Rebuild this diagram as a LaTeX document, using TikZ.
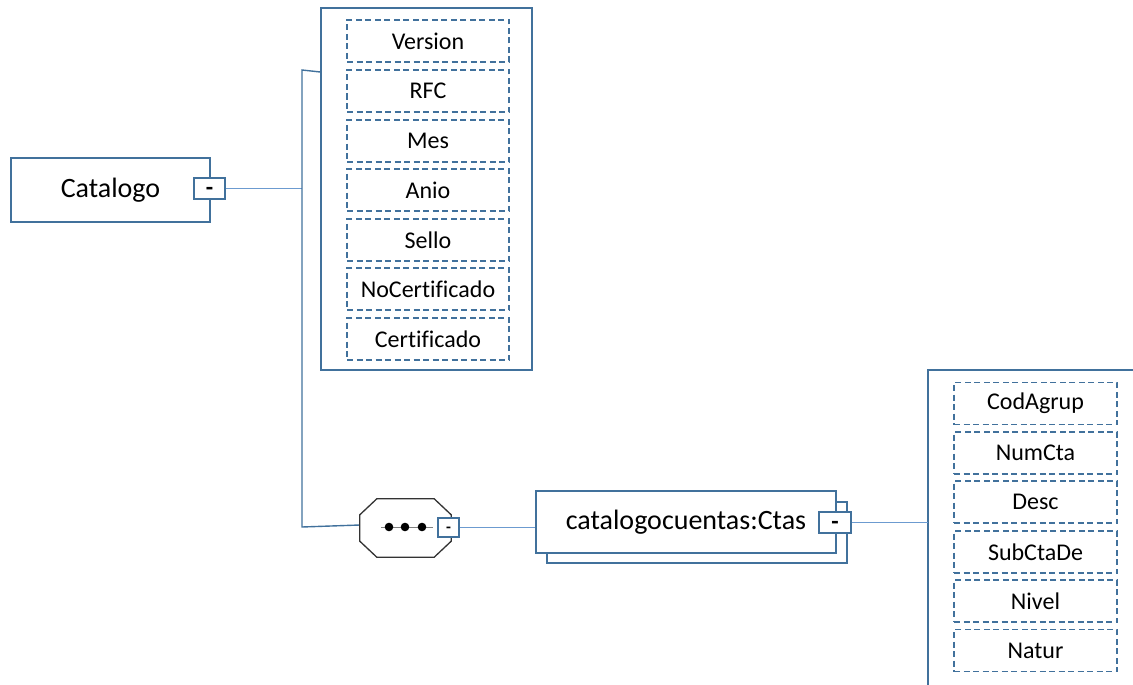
\documentclass[tikz,border=0pt]{standalone}
\usepackage{fontspec}
\setmainfont{Carlito}[Ligatures=NoCommon]
\definecolor{bord}{HTML}{41719C}
\definecolor{conn}{HTML}{6C9BD0}
\definecolor{dsh}{HTML}{41719C}
\definecolor{octc}{HTML}{333333}
\begin{document}
\begin{tikzpicture}[x=1pt,y=-1pt,
  elem/.style={draw=bord,line width=1.4pt,fill=white,minimum width=#1,inner sep=0pt},
  minusbox/.style={draw=bord,line width=1.4pt,fill=white,inner sep=0pt,
    font=\fontsize{24}{24}\selectfont,text height=17pt,text depth=3pt},
  attrbox/.style={draw=bord,line width=1.4pt,inner sep=0pt},
  attr/.style={draw=dsh,line width=1.2pt,dash pattern=on 6pt off 3.5pt,inner sep=0pt,
    minimum width=#1,minimum height=42pt,font=\fontsize{24}{26}\selectfont},
  connline/.style={draw=conn,line width=1pt},
  spine/.style={draw=bord,line width=1.4pt}]
\useasboundingbox (0,0) rectangle (1133,685);
% Catalogo
\node[elem=199pt,minimum height=64pt,font=\fontsize{28}{30}\selectfont] (cat) at (110.5,190) {Catalogo};
\node[minusbox,minimum width=31pt,minimum height=21pt] (catm) at (209.5,188.5) {\textbf{-}};
% attribute group 1
\node[attrbox,minimum width=211pt,minimum height=362pt] (ag1) at (426.5,189) {};
\foreach \t/\y [count=\i] in {Version/41,RFC/91,Mes/141,Anio/190,Sello/240,NoCertificado/289,Certificado/339}
  \node[attr=162pt] (a\i) at (428,\y) {\t};
% spine
\coordinate (sptop) at (302,70);
\coordinate (spbot) at (302,527);
\draw[connline] (catm.east) -- (catm.east -| sptop);
\draw[spine] (ag1.west |- 0,72) -- (sptop) -- (spbot) -- (360,525);
% sequence compositor
\node[minimum width=91pt,minimum height=58pt,inner sep=0pt] (seq) at (405.5,528) {};
\draw[octc,line width=1.3pt,fill=white]
  ([xshift=17pt]seq.north west) -- ([xshift=-17pt]seq.north east) -- ([yshift=-16pt]seq.north east)
  -- ([yshift=16pt]seq.south east) -- ([xshift=-17pt]seq.south east) -- ([xshift=17pt]seq.south west)
  -- ([yshift=16pt]seq.south west) -- ([yshift=-16pt]seq.north west) -- cycle;
\draw[gray,line width=1pt] (381,527) -- (433,527);
\foreach \x in {389,405,422} \fill[black] (\x,527) circle (4.3pt);
\node[minusbox,minimum width=21pt,minimum height=19pt,font=\fontsize{16}{16}\selectfont,
  text height=14pt,text depth=4pt] (seqm) at (448.5,527.5) {\textbf{-}};
% Ctas
\node[elem=300pt,minimum height=61pt] (ctassh) at (697,532.5) {};
\node[elem=300pt,minimum height=62pt,font=\fontsize{28}{30}\selectfont] (ctas) at (686,522) {catalogocuentas:Ctas};
\node[minusbox,minimum width=32pt,minimum height=21pt] (ctasm) at (835,522.5) {\textbf{-}};
\draw[connline] (seqm.east) -- (seqm.east -| ctas.west);
% attribute group 2
\coordinate (ag2) at (928,370);
\draw[spine] (1133,370) -- (ag2) -- (928,685);
\draw[connline] (ctasm.east) -- (ctasm.east -| ag2);
\foreach \t/\y [count=\i] in {CodAgrup/403.5,NumCta/453,Desc/502,SubCtaDe/552,Nivel/601,Natur/650.5}
  \node[attr=163pt] (b\i) at (1035.5,\y) {\t};
\end{tikzpicture}
\end{document}
